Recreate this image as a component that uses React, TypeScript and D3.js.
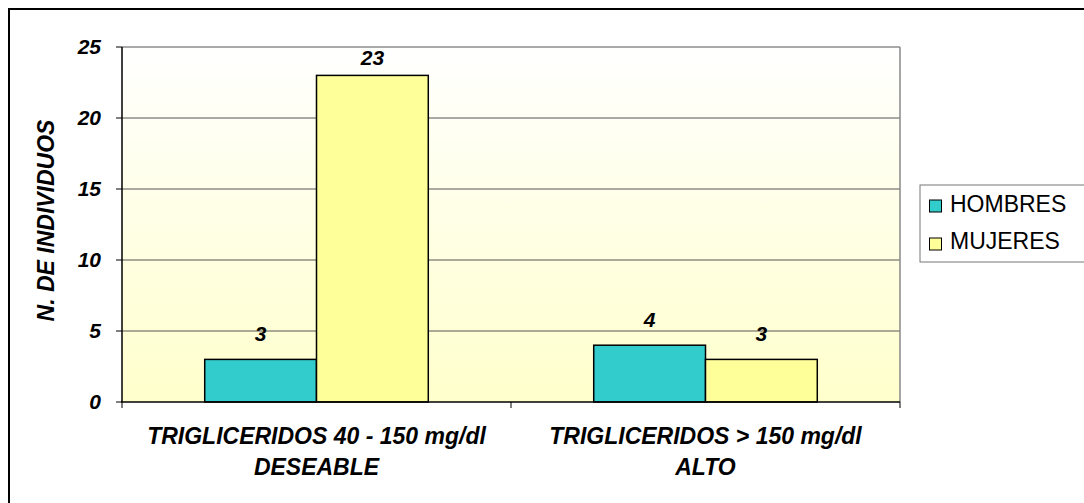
import React from "react";
import * as d3 from "d3";

// Categories (two lines each) and series values
const categories = ["TRIGLICERIDOS 40 - 150 mg/dl|DESEABLE", "TRIGLICERIDOS > 150 mg/dl|ALTO"];
const seriesNames = ["HOMBRES", "MUJERES"];
const hombres = [3, 4];
const mujeres = [23, 3];
const yTicks = [0, 5, 10, 15, 20, 25];
const yTitle = "N. DE INDIVIDUOS";

const colors = ["#33CCCC", "#FFFF99"];
const FONT = "'Liberation Sans', Arial, sans-serif";

export default function App() {
  const W = 1084, H = 503;
  const left = 122, right = 900, top = 47, bottom = 402;

  const x0 = d3.scaleBand<string>().domain(categories).range([left, right]).paddingInner(0).paddingOuter(0);
  const x1 = d3.scaleBand<string>().domain(seriesNames).range([0, x0.bandwidth()]).paddingInner(0).paddingOuter(0.74);
  const y = d3.scaleLinear().domain([0, 25]).range([bottom, top]);

  const series = [hombres, mujeres];

  return (
    <svg width={W} height={H} style={{ position: "absolute", left: 0, top: 0 }} fontFamily={FONT}>
      <defs>
        <linearGradient id="plotBg" x1="0" y1="0" x2="0" y2="1">
          <stop offset="0" stopColor="#FFFFFF" />
          <stop offset="1" stopColor="#FFFFCC" />
        </linearGradient>
      </defs>
      <rect x={0} y={0} width={W} height={H} fill="#fff" />
      {/* chart frame */}
      <rect x={9} y={9} width={1100} height={520} fill="none" stroke="#000" strokeWidth={2} />

      {/* plot area */}
      <rect x={left} y={top} width={right - left} height={bottom - top} fill="url(#plotBg)" />
      {yTicks.filter((t) => t > 0).map((t) => (
        <line key={t} x1={left} x2={right} y1={y(t)} y2={y(t)} stroke="#555" strokeWidth={1} />
      ))}
      <line x1={right} x2={right} y1={top} y2={bottom} stroke="#888" strokeWidth={1.5} />

      {/* bars */}
      {categories.map((c, ci) =>
        seriesNames.map((s, si) => {
          const v = series[si][ci];
          const bx = (x0(c) as number) + (x1(s) as number);
          return (
            <rect key={c + s} x={bx} y={y(v)} width={x1.bandwidth()} height={bottom - y(v)}
              fill={colors[si]} stroke="#000" strokeWidth={1.5} />
          );
        })
      )}

      {/* data labels */}
      {categories.map((c, ci) =>
        seriesNames.map((s, si) => {
          const v = series[si][ci];
          const cx = (x0(c) as number) + (x1(s) as number) + x1.bandwidth() / 2;
          const ty = Math.max(y(v) - 18, top + 18);
          return (
            <text key={"l" + c + s} x={cx} y={ty} textAnchor="middle" fontSize={21}
              fontWeight="bold" fontStyle="italic" fill="#000">{v}</text>
          );
        })
      )}

      {/* axes */}
      <line x1={left} x2={left} y1={top} y2={bottom} stroke="#000" strokeWidth={1.5} />
      <line x1={left - 1} x2={right} y1={bottom} y2={bottom} stroke="#000" strokeWidth={1.5} />
      {yTicks.map((t) => (
        <g key={"yt" + t}>
          <line x1={left - 6} x2={left} y1={y(t)} y2={y(t)} stroke="#000" strokeWidth={1} />
          <text x={101} y={y(t) + 7} textAnchor="end" fontSize={21} fontWeight="bold" fontStyle="italic">{t}</text>
        </g>
      ))}
      {[left, ...categories.map((c) => (x0(c) as number) + x0.bandwidth())].map((tx, i) => (
        <line key={"xt" + i} x1={tx} x2={tx} y1={bottom} y2={bottom + 6} stroke="#000" strokeWidth={1} />
      ))}
      {categories.map((c) => {
        const cx = (x0(c) as number) + x0.bandwidth() / 2;
        const lines = c.split("|");
        return (
          <text key={"cl" + c} textAnchor="middle" fontSize={23} fontWeight="bold" fontStyle="italic">
            {lines.map((ln, i) => (
              <tspan key={i} x={cx} y={444 + i * 31}>{ln}</tspan>
            ))}
          </text>
        );
      })}

      {/* y axis title */}
      <text transform={`translate(54,${(top + bottom) / 2 - 4}) rotate(-90)`} textAnchor="middle"
        fontSize={23} fontWeight="bold" fontStyle="italic">{yTitle}</text>

      {/* legend */}
      <rect x={920} y={185} width={170} height={77} fill="#fff" stroke="#777" strokeWidth={1} />
      {seriesNames.map((s, i) => (
        <g key={"lg" + s}>
          <rect x={929.5} y={200 + i * 38} width={12} height={12} fill={colors[i]} stroke="#000" strokeWidth={1} />
          <text x={950} y={212 + i * 37} fontSize={23}>{s}</text>
        </g>
      ))}
    </svg>
  );
}
